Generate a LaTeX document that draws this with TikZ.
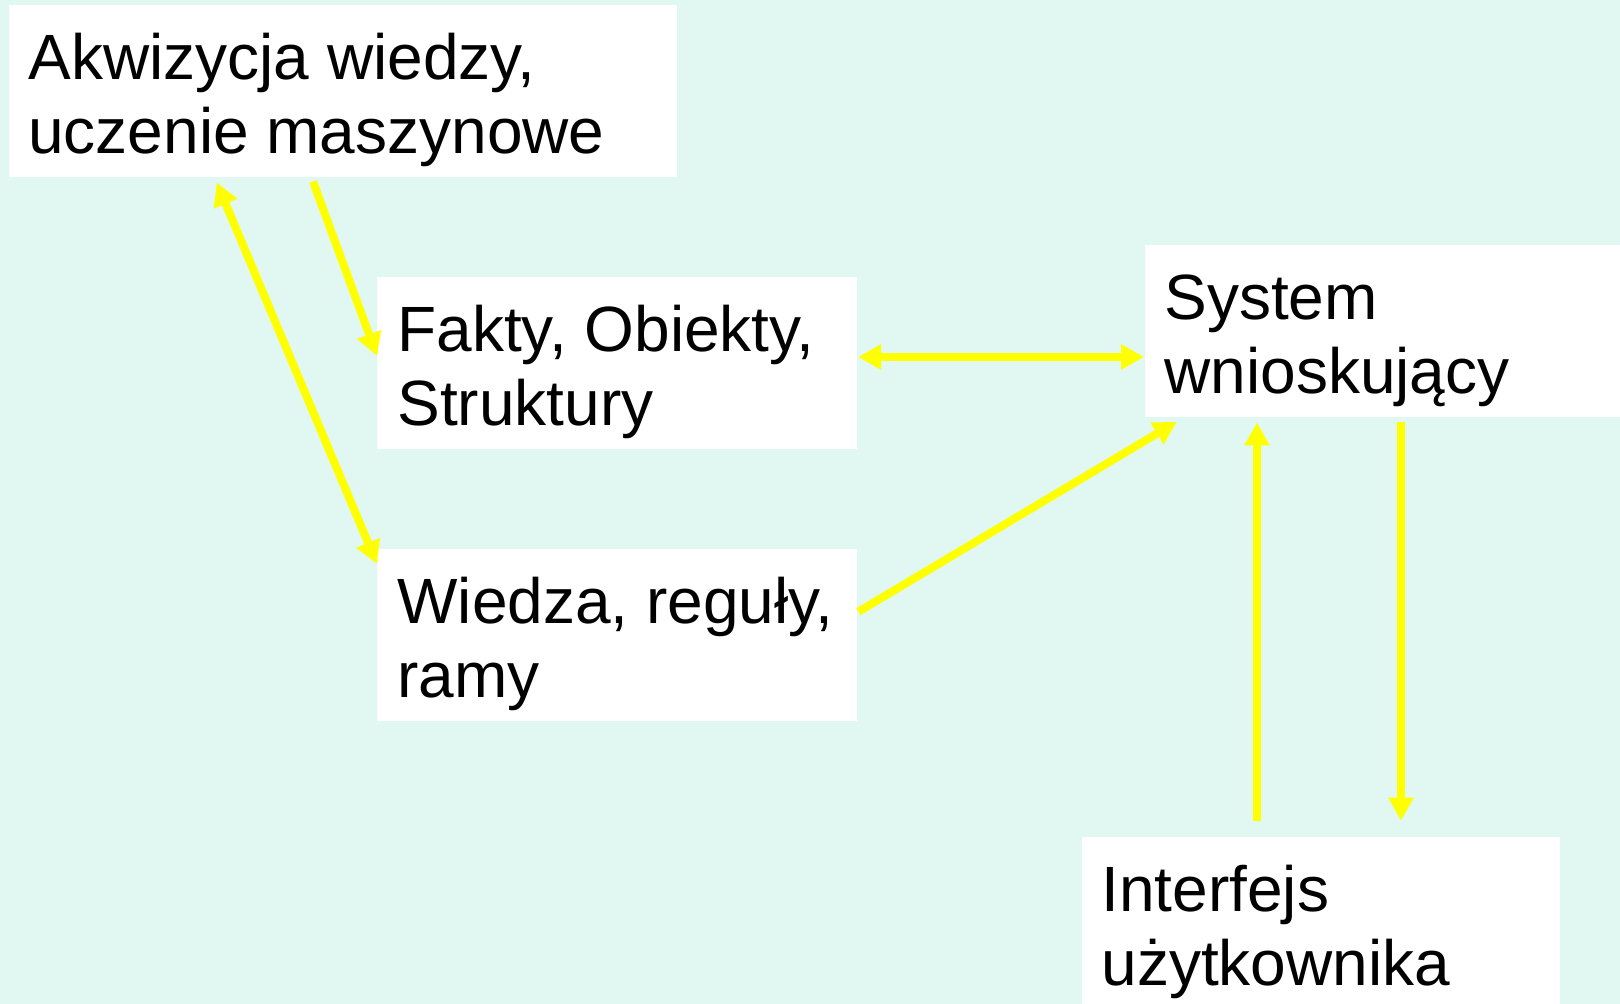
\documentclass[tikz,border=0pt]{standalone}
\usepackage{fontspec}
\setmainfont{Liberation Sans}
\usetikzlibrary{arrows.meta,calc}
\definecolor{bgmint}{RGB}{225,247,241}
\definecolor{arrowyellow}{RGB}{255,255,0}
% two text lines, the box's baseline being that of the first line
\newcommand{\boxlines}[2]{\vtop{\baselineskip=37pt\hbox{#1}\hbox{#2}}}

\begin{document}
\begin{tikzpicture}[x=0.5pt,y=-0.5pt,
  panel/.style={fill=white, draw=none, inner sep=0pt, anchor=north west, minimum height=86pt},
  paneltext/.style={inner sep=0pt, anchor=base west, font=\fontsize{32pt}{37pt}\selectfont},
  link/.style={draw=arrowyellow, line width=4pt, -{Triangle[width=12pt,length=11.5pt]}},
  both/.style={draw=arrowyellow, line width=4pt, {Triangle[width=12pt,length=11.5pt]}-{Triangle[width=12pt,length=11.5pt]}}
]
\useasboundingbox (0,0) rectangle (1620,1004);
\fill[bgmint] (0,0) rectangle (1620,1004);

% panels
\node[panel, minimum width=334pt] (akw) at (9,5) {};
\node[panel, minimum width=240pt] (fakty) at (377,277) {};
\node[panel, minimum width=240pt] (wiedza) at (377,549) {};
\node[panel, minimum width=237.5pt] (system) at (1145,245) {};
\node[panel, minimum width=239pt, minimum height=83.5pt] (interfejs) at (1082,837) {};

% panel texts
\node[paneltext] (akwT) at ([shift={(19,74.5)}]akw.north west) {\boxlines{Akwizycja wiedzy,}{uczenie maszynowe}};
\node[paneltext] (faktyT) at ([shift={(20,74.5)}]fakty.north west) {\boxlines{Fakty, Obiekty,}{Struktury}};
\node[paneltext] (wiedzaT) at ([shift={(20,74.5)}]wiedza.north west) {\boxlines{Wiedza, reguły,}{ramy}};
\node[paneltext] (systemT) at ([shift={(19,74.5)}]system.north west) {\boxlines{System}{wnioskujący}};
\node[paneltext] (interfejsT) at ([shift={(19,74.5)}]interfejs.north west) {\boxlines{Interfejs}{użytkownika}};

% connectors
\draw[both] ([shift={(207.7,4.7)}]akw.south west) -- ([shift={(0,15)}]wiedza.north west);
\draw[link] ([shift={(304,3.7)}]akw.south west) -- ([shift={(0,79)}]fakty.north west);
\draw[both] ([shift={(0.3,80)}]fakty.north east) -- ([shift={(-1,112)}]system.north west);
\draw[link] ([shift={(0.6,62.7)}]wiedza.north east) -- ([shift={(31.7,4)}]system.south west);
\draw[link] ([shift={(175,-16.3)}]interfejs.north west) -- ([shift={(112,4.7)}]system.south west);
\draw[link] ([shift={(256,4)}]system.south west) -- ([shift={(319,-16.3)}]interfejs.north west);
\end{tikzpicture}
\end{document}
